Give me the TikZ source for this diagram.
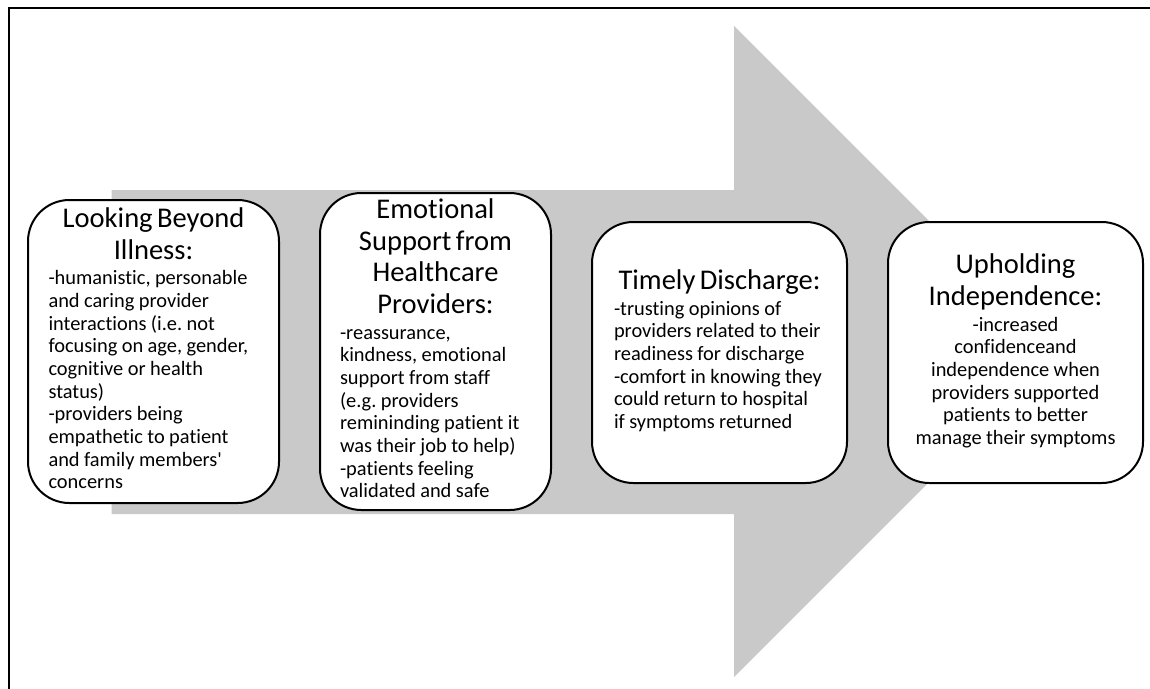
\documentclass[tikz,border=0pt]{standalone}
\usepackage{fontspec}
\setmainfont[Ligatures=NoCommon]{Carlito}
\frenchspacing
\definecolor{arrowgray}{RGB}{201,201,201}
\newcommand{\ttlfont}{\fontsize{21.4}{23.8}\selectfont}
\newcommand{\bdyfont}{\fontsize{15.3}{17}\selectfont}
\tikzset{
  frameline/.style={line width=1.5pt, black},
  bigarrow/.style={fill=arrowgray, draw=none},
  stage/.style={draw=black, line width=1.5pt, fill=white, rounded corners=31pt,
                inner sep=0pt, anchor=center}
}
\begin{document}
\begin{tikzpicture}[x=0.75pt,y=-0.75pt]
\useasboundingbox (0,0) rectangle (1150,689);
% frame (top and left edges only)
\draw[frameline] (9.3,689) -- (9.3,7.7) -- (1150,7.7);
% big gray arrow
\fill[bigarrow] (111.5,190) -- (734,190) -- (734,26) -- (1059.5,351.5)
   -- (734,677) -- (734,514) -- (111.5,514) -- cycle;
% stages
\node[stage, minimum width=188.25pt, minimum height=227.25pt, text width=157.5pt] (s1) at (153.5,351.5)
 {{\centering\ttlfont Looking Beyond\\Illness:\par}\vspace{2.2pt}%
  {\raggedright\bdyfont\begin{tabular}[t]{@{}l@{}}-humanistic, personable\\and caring provider\\interactions (i.e. not\\focusing on age, gender,\\cognitive or health\\status)\\-providers being\\empathetic to patient\\and family members\textquotesingle\\concerns\end{tabular}\par}};
\node[stage, minimum width=173.25pt, minimum height=237.75pt, text width=143.25pt] (s2) at (435.5,351.5)
 {{\centering\ttlfont Emotional\\Support from\\Healthcare\\Providers:\par}\vspace{2.2pt}%
  {\raggedright\bdyfont\begin{tabular}[t]{@{}l@{}}-reassurance,\\kindness, emotional\\support from staff\\(e.g. providers\\remininding patient it\\was their job to help)\\-patients feeling\\validated and safe\end{tabular}\par}};
\node[stage, minimum width=191.25pt, minimum height=195.75pt, text width=158.25pt] (s3) at (719.5,352.5)
 {{\centering\ttlfont Timely Discharge:\par}\vspace{2.2pt}%
  {\raggedright\bdyfont\begin{tabular}[t]{@{}l@{}}-trusting opinions of\\providers related to their\\readiness for discharge\\-comfort in knowing they\\could return to hospital\\if symptoms returned\end{tabular}\par}};
\node[stage, minimum width=191.25pt, minimum height=195.75pt, text width=172.5pt] (s4) at (1015.5,352.5)
 {{\centering\ttlfont Upholding\\Independence:\par}\vspace{2.2pt}%
  {\centering\bdyfont\begin{tabular}[t]{@{}c@{}}-increased\\confidenceand\\independence when\\providers supported\\patients to better\\manage their symptoms\end{tabular}\par}};
\end{tikzpicture}
\end{document}
